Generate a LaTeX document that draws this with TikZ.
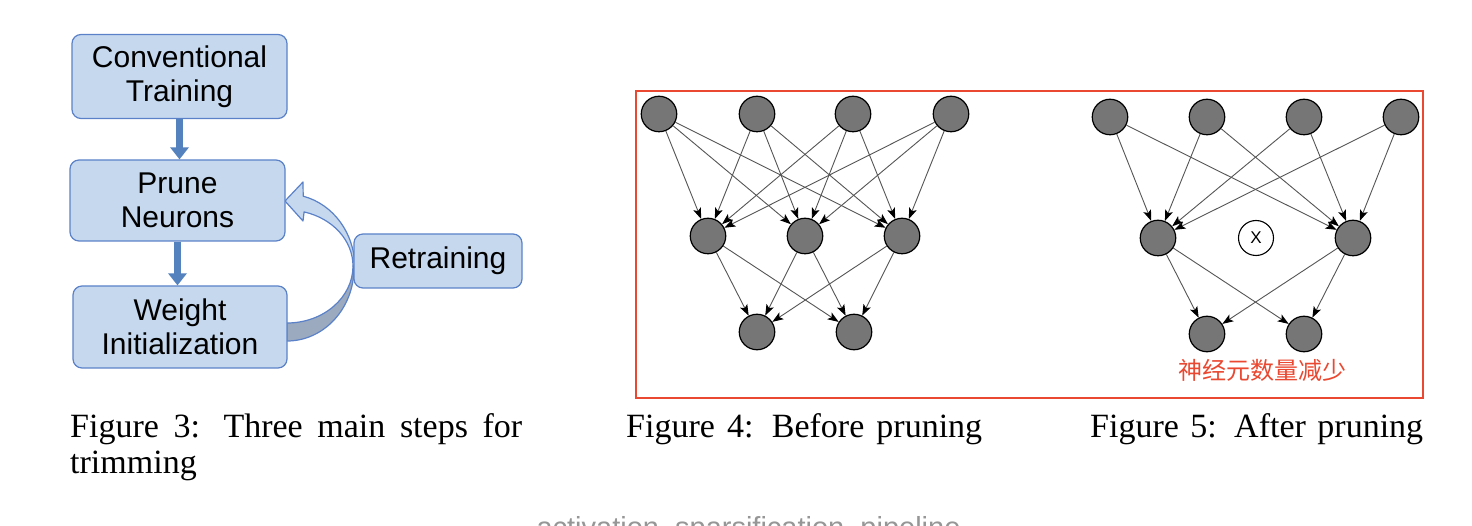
\documentclass[tikz,border=0pt]{standalone}
\usepackage{fontspec}
\setmainfont{Liberation Serif}
\setsansfont{Liberation Sans}
\newfontfamily\cjk{Noto Sans CJK SC}
\usetikzlibrary{arrows.meta}
\definecolor{boxfill}{RGB}{197,216,238}
\definecolor{boxline}{RGB}{91,130,200}
\definecolor{arrowblue}{RGB}{84,130,190}
\definecolor{backside}{RGB}{155,170,190}
\definecolor{redline}{RGB}{234,72,48}
\definecolor{neuronfill}{RGB}{118,118,118}
\definecolor{edgegray}{RGB}{85,85,85}
\definecolor{capgray}{RGB}{150,150,150}
\begin{document}
\begin{tikzpicture}[x=1pt,y=1pt,
 flowbox/.style={draw=boxline, fill=boxfill, line width=1.2pt, rounded corners=9pt, align=center, font=\sffamily\fontsize{30}{34}\selectfont, inner sep=0pt},
 neuron/.style={circle, draw=black, fill=neuronfill, line width=1.2pt, minimum size=35.5pt, inner sep=0pt},
 pruned/.style={circle, draw=black, fill=white, line width=1.1pt, minimum size=35pt, inner sep=0pt, font=\sffamily\fontsize{17}{17}\selectfont},
 conn/.style={draw=edgegray, line width=0.9pt, -{Stealth[length=11pt,width=8pt,inset=2.5pt,color=black]}},
 blockarrow/.style={draw=arrowblue, line width=7pt, -{Triangle[length=12pt,width=18pt]}},
 caption/.style={anchor=base west, inner sep=0pt, font=\fontsize{34}{35}\selectfont},
 curvefront/.style={draw=boxline, fill=boxfill, line width=1.2pt, line join=round},
 curveback/.style={draw=boxline, fill=backside, line width=1.2pt, line join=round}
]
\clip (0,0) rectangle (1472,-526);
\fill[white] (0,0) rectangle (1472,-526);

% curved retraining arrow (back then front)
\path[curveback] (354,-268) arc[start angle=0, end angle=-90, x radius=67pt, y radius=73pt]
  -- (287,-323) arc[start angle=-90, end angle=0, x radius=66pt, y radius=57pt] -- cycle;
\path[curvefront] (303.2,-196.2) arc[start angle=76, end angle=0, x radius=68pt, y radius=73pt]
  -- (353,-266) arc[start angle=0, end angle=75, x radius=66pt, y radius=56pt]
  -- (303,-221) -- (285,-201) -- (303,-182) -- cycle;

% flowchart boxes
\node[flowbox, minimum width=215pt, minimum height=84pt] (conv) at (179.5,-76.5) {Conventional\\Training};
\node[flowbox, minimum width=215pt, minimum height=81pt] (prune) at (177.5,-200.5) {Prune\\Neurons};
\node[flowbox, minimum width=214pt, minimum height=82pt] (winit) at (180,-327) {Weight\\Initialization};
\node[flowbox, minimum width=168pt, minimum height=54pt] (retrain) at (438,-261) {Retraining};

\draw[blockarrow] (conv.south) -- (conv.south |- prune.north);
\draw[blockarrow] (prune.south) -- (prune.south |- winit.north);

% red frame
\draw[redline, line width=2pt] (636,-91) rectangle (1423,-398);

% network before pruning
\node[neuron] (t1) at (659,-114) {};
\node[neuron] (t2) at (757,-114) {};
\node[neuron] (t3) at (853,-114) {};
\node[neuron] (t4) at (951,-114) {};
\node[neuron] (m1) at (708,-236) {};
\node[neuron] (m2) at (805,-236) {};
\node[neuron] (m3) at (902,-236) {};
\node[neuron] (b1) at (757,-332) {};
\node[neuron] (b2) at (854,-332) {};
\foreach \s in {t1,t2,t3,t4}{\foreach \d in {m1,m2,m3}{\draw[conn] (\s) -- (\d);}}
\foreach \s in {m1,m2,m3}{\foreach \d in {b1,b2}{\draw[conn] (\s) -- (\d);}}

% network after pruning
\node[neuron] (u1) at (1110,-117) {};
\node[neuron] (u2) at (1207,-117) {};
\node[neuron] (u3) at (1304,-117) {};
\node[neuron] (u4) at (1401,-117) {};
\node[neuron] (n1) at (1158,-238) {};
\node[pruned] (nx) at (1256,-238) {X};
\node[neuron] (n3) at (1353,-238) {};
\node[neuron] (c1) at (1207,-334) {};
\node[neuron] (c2) at (1304,-334) {};
\foreach \s in {u1,u2,u3,u4}{\foreach \d in {n1,n3}{\draw[conn] (\s) -- (\d);}}
\foreach \s in {n1,n3}{\foreach \d in {c1,c2}{\draw[conn] (\s) -- (\d);}}

\node[text=redline, font=\cjk\fontsize{24}{24}\selectfont, inner sep=0pt] (lbl) at (1262,-370) {神经元数量减少};

% captions
\begin{scope}
\clip (0,-400) rectangle (600,-481);
\node[caption] (cap3a) at (70,-437) {\makebox[452pt][s]{Figure 3: Three main steps for}};
\node[caption] (cap3b) at (70,-473) {trimming};
\end{scope}
\node[caption] (cap4) at (626,-437) {\makebox[356pt][s]{Figure 4: Before pruning}};
\node[caption] (cap5) at (1090,-437) {\makebox[333pt][s]{Figure 5: After pruning}};

\node[anchor=base, inner sep=0pt, text=capgray, font=\sffamily\fontsize{29}{29}\selectfont] (pipe) at (748.5,-537) {activation\_sparsification\_pipeline};
\end{tikzpicture}
\end{document}
